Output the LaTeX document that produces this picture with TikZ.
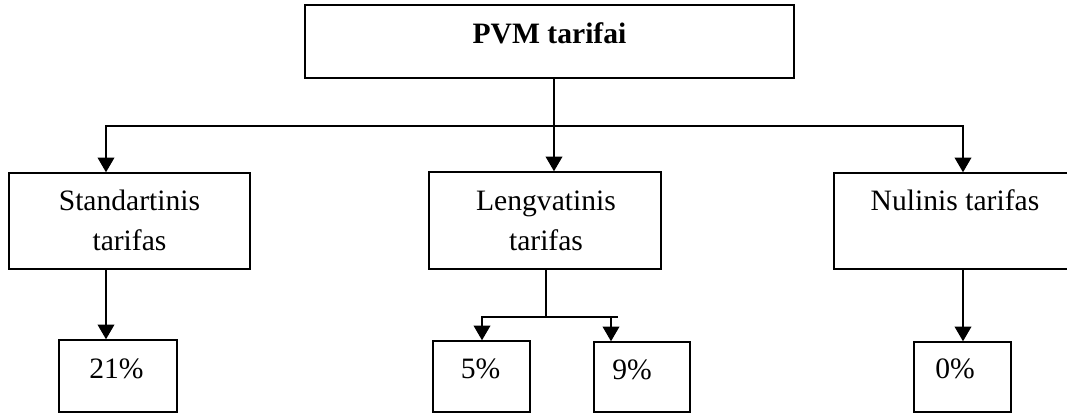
\documentclass[tikz,border=0pt]{standalone}
\usepackage{fontspec}
\setmainfont{Liberation Serif}
\usetikzlibrary{arrows.meta,fit}
\begin{document}
\begin{tikzpicture}[x=0.75pt,y=-0.75pt,
  box/.style={draw,line width=1.1pt,inner sep=0pt},
  lbl/.style={anchor=base,inner sep=0pt,align=center,font=\fontsize{22.2}{30}\selectfont},
  conn/.style={line width=1.1pt},
  arr/.style={conn,-{Triangle[width=12.5pt,length=11pt]}}]
\useasboundingbox (0,0) rectangle (1067,414);
\clip (0,0) rectangle (1067,414);

% box corners
\coordinate (topA) at (305,5);   \coordinate (topB) at (794,78);
\coordinate (stdA) at (9,173);   \coordinate (stdB) at (250,269);
\coordinate (lgvA) at (429,172); \coordinate (lgvB) at (661,269);
\coordinate (nulA) at (834,173); \coordinate (nulB) at (1090,269);
\coordinate (p21A) at (59,340);  \coordinate (p21B) at (177,412);
\coordinate (p5A) at (433,341);  \coordinate (p5B) at (530,412);
\coordinate (p9A) at (594,342);  \coordinate (p9B) at (690,412);
\coordinate (p0A) at (914,342);  \coordinate (p0B) at (1011,412);

% boxes
\node[box,fit=(topA)(topB)] (top) {};
\node[box,fit=(stdA)(stdB)] (std) {};
\node[box,fit=(lgvA)(lgvB)] (lgv) {};
\node[box,fit=(nulA)(nulB)] (nul) {};
\node[box,fit=(p21A)(p21B)] (p21) {};
\node[box,fit=(p5A)(p5B)] (p5) {};
\node[box,fit=(p9A)(p9B)] (p9) {};
\node[box,fit=(p0A)(p0B)] (p0) {};

% texts (multi-line labels are placed by their last baseline)
\node[lbl] (topT) at (549.5,43) {\bfseries PVM tarifai};
\node[lbl] (stdT) at (129.5,250) {Standartinis\\tarifas};
\node[lbl] (lgvT) at (546,250) {Lengvatinis\\tarifas};
\node[lbl] (nulT) at (955,210) {Nulinis tarifas};
\node[lbl] (p21T) at (116.5,378) {21\%};
\node[lbl] (p5T) at (480.5,378) {5\%};
\node[lbl] (p9T) at (632,379) {9\%};
\node[lbl] (p0T) at (955,378) {0\%};

% bus under the title
\coordinate (busM) at (554,126);
\coordinate (busL) at (106,126);
\coordinate (busR) at (963,126);
\draw[conn] (busM |- top.south) -- (busM);
\draw[arr] (busM) -- (busL) -- (busL |- std.north);
\draw[arr] (busM) -- (busR) -- (busR |- nul.north);
\draw[arr] (busM) -- (busM |- lgv.north);

% rates
\draw[arr] (busL |- std.south) -- (busL |- p21.north);
\draw[arr] (busR |- nul.south) -- (busR |- p0.north);
\coordinate (fork) at (546,317);
\coordinate (forkL) at (482,317);
\coordinate (forkA) at (611,317);
\coordinate (forkR) at (618,317);
\draw[conn] (fork |- lgv.south) -- (fork);
\draw[arr] (fork) -- (forkL) -- (forkL |- p5.north);
\draw[conn] (fork) -- (forkR);
\draw[arr] (forkA) -- (forkA |- p9.north);
\end{tikzpicture}
\end{document}
